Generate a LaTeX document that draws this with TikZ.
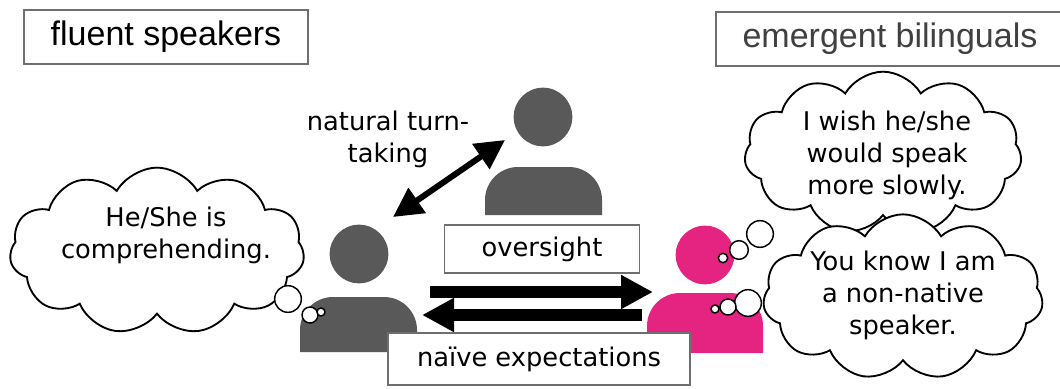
\documentclass[tikz,border=0pt]{standalone}
\usepackage{fontspec}
\setmainfont{DejaVu Sans}
\newfontfamily\arialfont{Liberation Sans}
\usetikzlibrary{arrows.meta,shapes.symbols}
\definecolor{persongray}{RGB}{89,89,89}
\definecolor{personpink}{RGB}{229,36,130}
\definecolor{framegray}{RGB}{110,110,110}

\begin{document}
\begin{tikzpicture}[x=0.75pt,y=-0.75pt, every node/.style={font=\fontsize{19.3}{24}\selectfont, align=center}]
				\tikzstyle{titlebox} = [draw=framegray, line width=0.8pt, fill=white, font=\arialfont\fontsize{25.5}{30}\selectfont, minimum height=40.5pt, inner sep=0pt]
				\tikzstyle{labelbox} = [draw=framegray, line width=0.8pt, fill=white, inner sep=0pt]
				\tikzstyle{thought} = [cloud, cloud ignores aspect, cloud puff arc=120, draw, line width=1.4pt, fill=white]
				\tikzstyle{bubble} = [circle, draw, line width=1.1pt, fill=white, inner sep=0pt]
				\tikzstyle{head} = [circle, inner sep=0pt, minimum size=44pt]
				\tikzstyle{myarrowstyle} = [line width=9pt, -{Triangle[length=24pt,width=24pt]}]
				\tikzstyle{mydoublestyle} = [line width=4.5pt, {Triangle[length=22pt,width=22pt]}-{Triangle[length=22pt,width=22pt]}]
				
				\useasboundingbox (0,0) rectangle (1060,389);
				
				\node[titlebox, minimum width=213pt] (fluent) at (166,37) {fluent speakers};
				\node[titlebox, minimum width=261pt, text=black!75] (emergent) at (890,39) {emergent bilinguals};
				
				\node[head, fill=persongray] (headT) at (543,117) {};
				\fill[persongray] (485,215) -- (485,200) arc[start angle=180,end angle=270,radius=33] -- (569,167) arc[start angle=270,end angle=360,radius=33] -- (602,215) -- cycle;
				\node[head, fill=persongray] (headL) at (359,254) {};
				\fill[persongray] (300,352) -- (300,330) arc[start angle=180,end angle=270,radius=33] -- (384,297) arc[start angle=270,end angle=360,radius=33] -- (417,352) -- cycle;
				\node[head, fill=personpink] (headP) at (705,255) {};
				\fill[personpink] (647,353) -- (647,326) arc[start angle=180,end angle=270,radius=33] -- (730,293) arc[start angle=270,end angle=360,radius=33] -- (763,353) -- cycle;
				
				\node[thought, cloud puffs=11, minimum width=221pt, minimum height=125pt] (cloudL) at (157,251) {};
				\node (textL) at (166,235) {He/She is\\comprehending.};
				\node[thought, cloud puffs=11, minimum width=208pt, minimum height=122pt] (cloudU) at (883,153) {};
				\node (textU) at (887,155) {I wish he/she\\would speak\\more slowly.};
				\node[thought, cloud puffs=11, minimum width=210pt, minimum height=124pt] (cloudD) at (903,297) {};
				\node (textD) at (903,295) {You know I am\\a non-native\\speaker.};
				
				\node[bubble, minimum size=20pt] (bL1) at (288,299) {};
				\node[bubble, minimum size=12pt] (bL2) at (310,315) {};
				\node[bubble, minimum size=6pt] (bL3) at (321,312) {};
				\node[bubble, minimum size=20pt] (bU1) at (760,234) {};
				\node[bubble, minimum size=14pt] (bU2) at (739,250) {};
				\node[bubble, minimum size=7pt] (bU3) at (723,258) {};
				\node[bubble, minimum size=20pt] (bD1) at (748,303) {};
				\node[bubble, minimum size=12pt] (bD2) at (728,307) {};
				\node[bubble, minimum size=6pt] (bD3) at (715,309) {};
				
				\node (turn) at (388,139) {natural turn-\\taking};
				\coordinate (turnA) at (393,217);
				\coordinate (turnB) at (505,140);
				\draw[mydoublestyle] (turnA) -- (turnB);
				
				\node[labelbox, minimum width=146pt, minimum height=36pt] (oversight) at (542,249) {oversight};
				\coordinate (overA) at (430,292);
				\coordinate (overB) at (653,292);
				\coordinate (naiveA) at (642,315);
				\coordinate (naiveB) at (422,315);
				\draw[myarrowstyle] (overA) -- (overB);
				\draw[myarrowstyle] (naiveA) -- (naiveB);
				\node[labelbox, minimum width=226.5pt, minimum height=39pt] (naive) at (539,359) {naïve expectations};
				
				\end{tikzpicture}
\end{document}
